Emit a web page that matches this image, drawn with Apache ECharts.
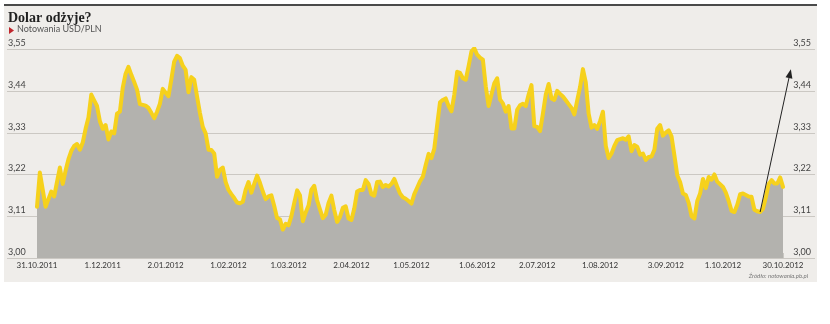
<!DOCTYPE html>
<html>
<head>
<meta charset="utf-8">
<script src="https://cdn.jsdelivr.net/npm/echarts@6/dist/echarts.min.js"></script>
<style>
html,body{margin:0;padding:0;background:#fff;}
#chart{width:830px;height:324px;}
</style>
</head>
<body>
<div id="chart"></div>
<script>
// ---- DATA ----
const titleText = 'Dolar odżyje?';
const subtitleText = 'Notowania USD/PLN';
const sourceText = 'Źródło: notowania.pb.pl';
const startDate = '2011-10-31';       // first trading day (business days, Mon-Fri)
const dayCount = 262;
const xTickLabels = ['31.10.2011','1.12.2011','2.01.2012','1.02.2012','1.03.2012','2.04.2012','1.05.2012','1.06.2012','2.07.2012','1.08.2012','3.09.2012','1.10.2012','30.10.2012'];
const yTicks = [3.00, 3.11, 3.22, 3.33, 3.44, 3.55];
const usdpln = [
3.135,3.225,3.18,3.135,3.155,3.175,3.162,3.200,3.238,3.195,
3.230,3.260,3.282,3.295,3.300,3.285,3.304,3.340,3.370,3.430,
3.415,3.400,3.360,3.340,3.350,3.312,3.333,3.328,3.380,3.385,
3.448,3.485,3.503,3.482,3.463,3.443,3.405,3.403,3.401,3.395,
3.382,3.368,3.385,3.406,3.445,3.435,3.426,3.470,3.517,3.532,
3.526,3.506,3.495,3.436,3.476,3.469,3.425,3.382,3.345,3.328,
3.285,3.284,3.275,3.214,3.232,3.238,3.200,3.179,3.168,3.158,
3.146,3.144,3.148,3.180,3.200,3.172,3.195,3.217,3.198,3.175,
3.155,3.162,3.165,3.137,3.105,3.102,3.075,3.090,3.086,3.110,
3.145,3.178,3.165,3.097,3.120,3.138,3.180,3.190,3.152,3.128,
3.105,3.114,3.145,3.164,3.126,3.095,3.108,3.132,3.136,3.104,
3.100,3.130,3.175,3.179,3.179,3.205,3.195,3.168,3.164,3.200,
3.201,3.187,3.192,3.188,3.195,3.208,3.188,3.170,3.160,3.156,
3.150,3.143,3.168,3.185,3.202,3.214,3.245,3.274,3.263,3.288,
3.350,3.410,3.416,3.420,3.400,3.386,3.430,3.490,3.487,3.473,
3.469,3.505,3.544,3.552,3.535,3.527,3.522,3.452,3.400,3.430,
3.460,3.473,3.417,3.407,3.385,3.400,3.341,3.341,3.390,3.402,
3.406,3.400,3.430,3.455,3.347,3.345,3.334,3.380,3.430,3.458,
3.420,3.416,3.440,3.432,3.425,3.415,3.405,3.395,3.378,3.415,
3.450,3.497,3.462,3.380,3.343,3.350,3.340,3.360,3.385,3.295,
3.263,3.275,3.295,3.310,3.313,3.315,3.311,3.320,3.281,3.297,
3.293,3.272,3.275,3.258,3.266,3.267,3.285,3.340,3.350,3.322,
3.330,3.336,3.320,3.270,3.218,3.200,3.170,3.166,3.145,3.110,
3.104,3.150,3.170,3.208,3.184,3.213,3.206,3.220,3.201,3.194,
3.187,3.172,3.150,3.124,3.121,3.140,3.168,3.170,3.166,3.162,
3.161,3.127,3.123,3.121,3.130,3.160,3.195,3.205,3.196,3.196,
3.212,3.187
];
const arrowStartDay = '18.10.2012';
const arrowEndValue = 3.497;

// ---- categories: business days ----
const dates = [];
{
  const d = new Date(startDate + 'T00:00:00Z');
  while (dates.length < dayCount) {
    const wd = d.getUTCDay();
    if (wd !== 0 && wd !== 6) {
      const mm = String(d.getUTCMonth() + 1).padStart(2, '0');
      dates.push(d.getUTCDate() + '.' + mm + '.' + d.getUTCFullYear());
    }
    d.setUTCDate(d.getUTCDate() + 1);
  }
}
const tickSet = new Set(xTickLabels.map(l => dates.indexOf(l)));
const fmt = v => v.toFixed(2).replace('.', ',');

const chart = echarts.init(document.getElementById('chart'), null, {renderer: 'canvas'});
const option = {
  backgroundColor: '#ffffff',
  animation: false,
  grid: {left: 37, right: 47, top: 49, bottom: 66, containLabel: false},
  xAxis: {
    type: 'category',
    data: dates,
    boundaryGap: false,
    axisLine: {show: false},
    axisTick: {show: true, inside: true, length: 5, interval: (i) => tickSet.has(i), lineStyle: {color: '#c9c7c2', width: 1}},
    axisLabel: {interval: (i) => tickSet.has(i), color: '#333', fontSize: 8, fontFamily: 'Lato', margin: 3},
    splitLine: {show: false}
  },
  yAxis: {
    type: 'value',
    min: 3.00,
    max: 3.55,
    axisLine: {show: false},
    axisTick: {show: false},
    axisLabel: {show: false},
    splitLine: {show: false}
  },
  series: [{
    type: 'line',
    data: usdpln,
    showSymbol: false,
    smooth: false,
    z: 5,
    lineStyle: {color: '#f6d11c', width: 4, join: 'round', cap: 'round'},
    areaStyle: {color: '#b3b2ae', opacity: 1}
  }]
};
chart.setOption(option);

// ---- decorations positioned through the chart's scales ----
const g = [];
g.push({type: 'rect', z: -10, shape: {x: 4, y: 5, width: 813, height: 277}, style: {fill: '#efedea'}});
g.push({type: 'rect', z: -9, shape: {x: 4, y: 4, width: 813, height: 2}, style: {fill: '#4a4a4a'}});
yTicks.forEach(v => {
  const y = Math.round(chart.convertToPixel({yAxisIndex: 0}, v)) + 0.5;
  g.push({type: 'line', z: -5, shape: {x1: 7, y1: y, x2: 815, y2: y}, style: {stroke: '#cbc8c3', lineWidth: 1}});
  g.push({type: 'text', z: 50, x: 8, y: y - 2, style: {text: fmt(v), fill: '#444', fontSize: 9, fontFamily: 'Lato', textAlign: 'left', textVerticalAlign: 'bottom'}});
  g.push({type: 'text', z: 50, x: 811, y: y - 2, style: {text: fmt(v), fill: '#444', fontSize: 9, fontFamily: 'Lato', textAlign: 'right', textVerticalAlign: 'bottom'}});
});
g.push({type: 'text', z: 50, x: 8, y: 11, style: {text: titleText, fill: '#1f1f1f', fontSize: 14, fontWeight: 'bold', fontFamily: 'Liberation Serif'}});
g.push({type: 'polygon', z: 50, shape: {points: [[9, 27], [14, 30.5], [9, 34]]}, style: {fill: '#c0272d'}});
g.push({type: 'text', z: 50, x: 17, y: 25, style: {text: subtitleText, fill: '#555', fontSize: 9, fontFamily: 'Lato'}});
g.push({type: 'text', z: 50, x: 808, y: 276, style: {text: sourceText, fill: '#777', fontSize: 6, fontStyle: 'italic', fontFamily: 'Lato', textAlign: 'right', textVerticalAlign: 'middle'}});

// arrow
const ai = dates.indexOf(arrowStartDay);
const p0 = chart.convertToPixel({xAxisIndex: 0, yAxisIndex: 0}, [ai, usdpln[ai]]);
const yEnd = chart.convertToPixel({yAxisIndex: 0}, arrowEndValue);
const x0 = p0[0], y0 = p0[1];
const x1 = x0 + (y0 - yEnd) * 0.215, y1 = yEnd;
const ang = Math.atan2(y1 - y0, x1 - x0);
const L = 9, W = 3.5;
const bx = x1 - L * Math.cos(ang), by = y1 - L * Math.sin(ang);
g.push({type: 'line', z: 100, shape: {x1: x0, y1: y0, x2: bx, y2: by}, style: {stroke: '#222', lineWidth: 1}});
g.push({type: 'polygon', z: 100, shape: {points: [[x1, y1], [bx + W * Math.sin(ang), by - W * Math.cos(ang)], [bx - W * Math.sin(ang), by + W * Math.cos(ang)]]}, style: {fill: '#222'}});
chart.setOption({graphic: g});
</script>
</body>
</html>
